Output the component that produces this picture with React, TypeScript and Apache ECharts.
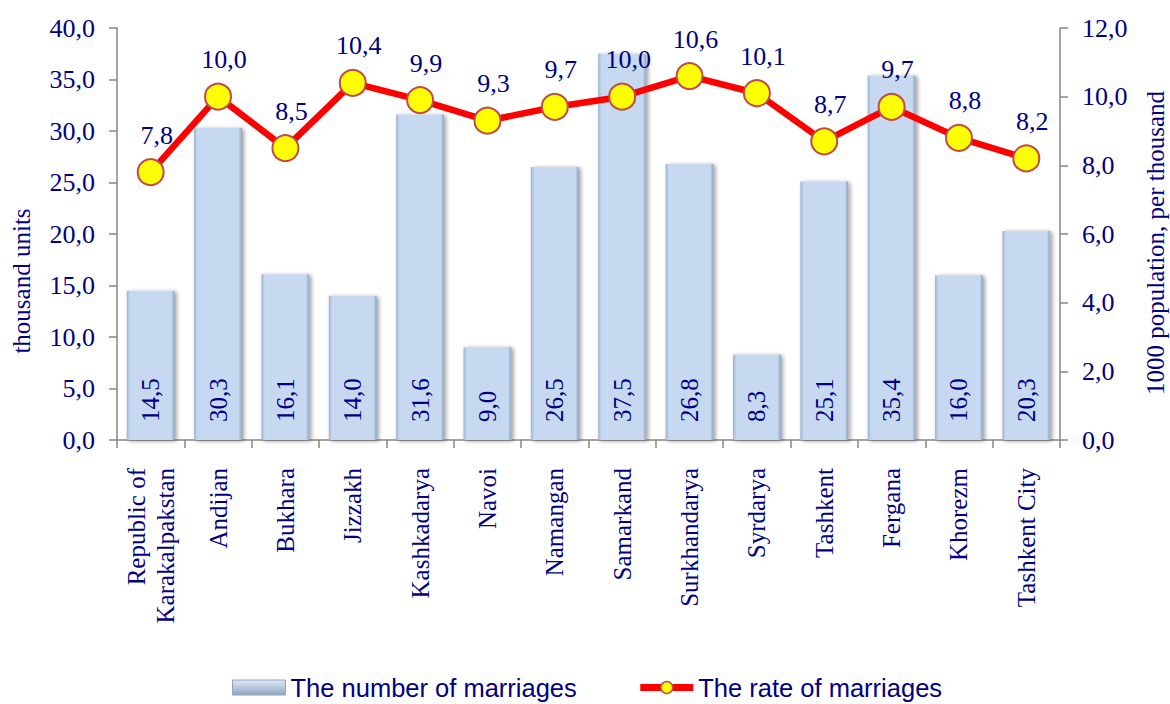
import React, { useEffect, useRef } from "react";
import * as echarts from "echarts";

const categories = [
  "Republic of\nKarakalpakstan",
  "Andijan",
  "Bukhara",
  "Jizzakh",
  "Kashkadarya",
  "Navoi",
  "Namangan",
  "Samarkand",
  "Surkhandarya",
  "Syrdarya",
  "Tashkent",
  "Fergana",
  "Khorezm",
  "Tashkent City",
];
const marriages = [14.5, 30.3, 16.1, 14.0, 31.6, 9.0, 26.5, 37.5, 26.8, 8.3, 25.1, 35.4, 16.0, 20.3];
const rates = [7.8, 10.0, 8.5, 10.4, 9.9, 9.3, 9.7, 10.0, 10.6, 10.1, 8.7, 9.7, 8.8, 8.2];
const seriesNames = ["The number of marriages", "The rate of marriages"];
const leftAxisTitle = "thousand units";
const rightAxisTitle = "1000 population, per thousand";

const NAVY = "#000080";
const SERIF = "'Liberation Serif', 'Times New Roman', serif";
const SANS = "'Liberation Sans', Arial, sans-serif";
const fmt = (v: number) => v.toFixed(1).replace(".", ",");

export default function App() {
  const ref = useRef<HTMLDivElement>(null);
  useEffect(() => {
    if (!ref.current) return;
    const chart = echarts.init(ref.current, undefined, { renderer: "svg" });
    const barGradient = new echarts.graphic.LinearGradient(0, 0, 1, 0, [
      { offset: 0, color: "#9cb2cf" },
      { offset: 0.07, color: "#c6d9f1" },
      { offset: 0.93, color: "#c6d9f1" },
      { offset: 1, color: "#8ca3c1" },
    ]);
    const legendGradient = new echarts.graphic.LinearGradient(0, 0, 0, 1, [
      { offset: 0, color: "#dfe9f5" },
      { offset: 0.5, color: "#b7c9df" },
      { offset: 1, color: "#8ea4c0" },
    ]);
    chart.setOption({
      animation: false,
      backgroundColor: "#ffffff",
      grid: { left: 117, right: 110, top: 28, bottom: 264, containLabel: false },
      legend: {
        left: 227,
        top: 669,
        itemWidth: 53,
        itemHeight: 15,
        itemGap: 60,
        textStyle: { color: NAVY, fontFamily: SANS, fontSize: 25.5, lineHeight: 27 },
        data: [
          { name: seriesNames[0], icon: "rect", itemStyle: { color: legendGradient, borderColor: "#8ea4c0", borderWidth: 1 } },
          {
            name: seriesNames[1],
            lineStyle: { color: "#ff0000", width: 7 },
            itemStyle: { color: "#ffff00", borderColor: "#be4b48", borderWidth: 1.5 },
          },
        ],
      },
      xAxis: {
        type: "category",
        data: categories,
        boundaryGap: true,
        axisLine: { lineStyle: { color: "#868686", width: 1.5 } },
        axisTick: { show: true, alignWithLabel: false, length: 8, lineStyle: { color: "#868686", width: 1.5 } },
        axisLabel: {
          interval: 0,
          rotate: 90,
          margin: 28,
          color: NAVY,
          fontFamily: SERIF,
          fontSize: 25,
          lineHeight: 29,
        },
      },
      yAxis: [
        {
          type: "value",
          min: 0,
          max: 40,
          interval: 5,
          splitLine: { show: false },
          axisLine: { show: true, lineStyle: { color: "#868686", width: 1.5 } },
          axisTick: { show: true, length: 8, lineStyle: { color: "#868686", width: 1.5 } },
          axisLabel: { color: NAVY, fontFamily: SERIF, fontSize: 26, margin: 22, formatter: (v: number) => fmt(v) },
        },
        {
          type: "value",
          min: 0,
          max: 12,
          interval: 2,
          position: "right",
          splitLine: { show: false },
          axisLine: { show: true, lineStyle: { color: "#868686", width: 1.5 } },
          axisTick: { show: true, length: 8, lineStyle: { color: "#868686", width: 1.5 } },
          axisLabel: { color: NAVY, fontFamily: SERIF, fontSize: 26, margin: 22, formatter: (v: number) => fmt(v) },
        },
      ],
      graphic: [
        {
          type: "text",
          x: 21,
          y: 281,
          rotation: Math.PI / 2,
          style: {
            text: leftAxisTitle,
            fill: NAVY,
            font: `25px ${SERIF}`,
            textAlign: "center",
            textVerticalAlign: "middle",
          },
        },
        {
          type: "text",
          x: 1155,
          y: 243,
          rotation: Math.PI / 2,
          style: {
            text: rightAxisTitle,
            fill: NAVY,
            font: `25px ${SERIF}`,
            textAlign: "center",
            textVerticalAlign: "middle",
          },
        },
      ],
      series: [
        {
          name: seriesNames[0],
          type: "bar",
          yAxisIndex: 0,
          data: marriages,
          barWidth: "71%",
          itemStyle: {
            color: barGradient,
            shadowColor: "rgba(0,0,0,0.4)",
            shadowBlur: 4,
            shadowOffsetX: 2,
            shadowOffsetY: 1,
          },
          label: {
            show: true,
            position: "insideBottom",
            rotate: 90,
            align: "left",
            verticalAlign: "middle",
            distance: 18,
            color: NAVY,
            fontFamily: SERIF,
            fontSize: 25,
            formatter: (p: any) => fmt(p.value),
          },
        },
        {
          name: seriesNames[1],
          type: "line",
          yAxisIndex: 1,
          data: rates,
          symbol: "circle",
          symbolSize: 26,
          lineStyle: { color: "#ff0000", width: 6.5 },
          itemStyle: { color: "#ffff00", borderColor: "#be4b48", borderWidth: 2 },
          label: {
            show: true,
            position: "top",
            distance: 10,
            offset: [6, 0],
            color: NAVY,
            fontFamily: SERIF,
            fontSize: 26,
            formatter: (p: any) => fmt(p.value),
          },
          z: 5,
        },
      ],
    });
    return () => chart.dispose();
  }, []);
  return <div ref={ref} style={{ position: "absolute", left: 0, top: 0, width: 1170, height: 704 }} />;
}
